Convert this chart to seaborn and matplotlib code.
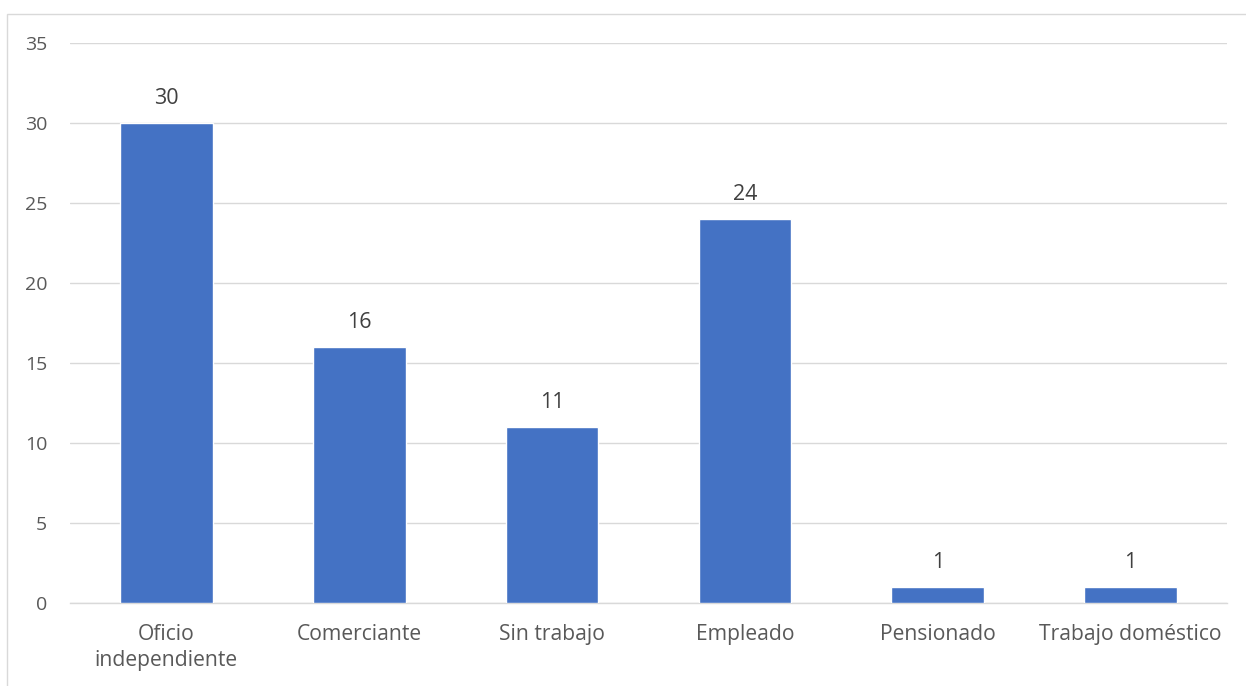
import numpy as np
import pandas as pd
import seaborn as sns
import matplotlib.pyplot as plt
from matplotlib.patches import Rectangle

categories = ['Oficio\nindependiente', 'Comerciante', 'Sin trabajo', 'Empleado',
              'Pensionado', 'Trabajo doméstico']
counts = [30, 16, 11, 24, 1, 1]

df = pd.DataFrame({'ocupacion': categories, 'n': counts})

sns.set_style('white')
plt.rcParams['font.family'] = ['Open Sans', 'DejaVu Sans']

W, H = 1246, 686
fig = plt.figure(figsize=(W / 100, H / 100), dpi=100)
ax = fig.add_axes([70 / W, 1 - 603 / H, (1227 - 70) / W, (603 - 43) / H])

sns.barplot(data=df, x='ocupacion', y='n', color='#4472C4', width=0.48,
            saturation=1, ax=ax, zorder=3)

ax.set_ylim(0, 35)
ax.set_yticks(range(0, 36, 5))
ax.set_xlim(-0.5, len(categories) - 0.5)
ax.grid(axis='y', color='#D9D9D9', linewidth=1, zorder=0)
ax.set_xlabel('')
ax.set_ylabel('')

for s in ['top', 'right', 'left']:
    ax.spines[s].set_visible(False)
ax.spines['bottom'].set_color('#D9D9D9')
ax.spines['bottom'].set_linewidth(1)

ax.tick_params(axis='y', length=0, labelsize=14, labelcolor='#595959', pad=16.5)
ax.tick_params(axis='x', which='major', length=0, labelsize=15.2, labelcolor='#595959', pad=15)
for lab in ax.get_xticklabels():
    lab.set_linespacing(1.35)
ax.set_xticks(np.arange(-0.5, len(categories), 1), minor=True)
ax.tick_params(axis='x', which='minor', length=6, color='#D9D9D9', width=1)

for cont in ax.containers:
    ax.bar_label(cont, padding=10, fontsize=15.5, color='#404040')

# chart area border (left and top edges visible)
fig.patches.append(Rectangle((7 / W, -0.01), 1.05, 1 - 14 / H + 0.01, transform=fig.transFigure,
                             fill=False, edgecolor='#D9D9D9', linewidth=1))

fig.savefig('out.png', dpi=100)
